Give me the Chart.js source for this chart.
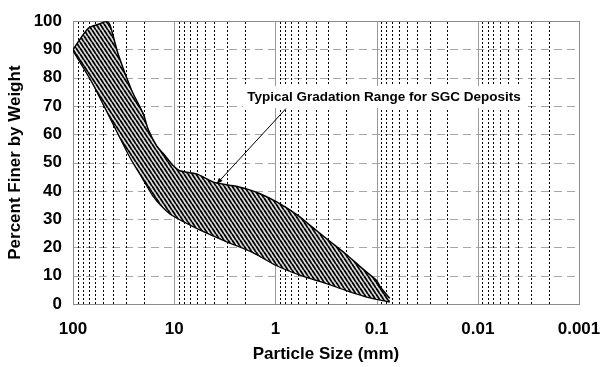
<!DOCTYPE html>
<html><head><meta charset="utf-8">
<script src="https://cdn.jsdelivr.net/npm/chart.js@4/dist/chart.umd.min.js"></script>
<style>html,body{margin:0;padding:0;background:#fff}#wrap{width:602px;height:367px}</style>
</head><body><div id="wrap"><canvas id="c" width="602" height="367"></canvas></div>
<script>
// ---- data ----
const xTickValues = [100, 10, 1, 0.1, 0.01, 0.001];
const xTickLabels = ['100', '10', '1', '0.1', '0.01', '0.001'];
const yTickValues = [0, 10, 20, 30, 40, 50, 60, 70, 80, 90, 100];
const yTickLabels = ['0', '10', '20', '30', '40', '50', '60', '70', '80', '90', '100'];

// upper (fine) bound of the gradation range: particle size (mm) -> percent finer
const upperX = [0.074, 0.092, 0.1, 0.137, 0.2, 0.29, 0.42, 0.61, 0.97, 1.42, 1.93, 2.6, 4.1, 6.0, 8.8, 10.2, 12.3, 14.9, 18, 20.3, 26.3, 35.7, 43, 46.4, 56, 70.6, 100];
const upperY = [2.0, 6.0, 8.3, 12.4, 17.6, 22.2, 26.8, 31.5, 36.1, 39.0, 40.7, 41.8, 43.1, 46.0, 47.1, 48.9, 52.4, 55.9, 61.6, 67.4, 75.5, 88.2, 98.6, 100, 98.9, 97.5, 90];
// lower (coarse) bound
const lowerX = [0.074, 0.116, 0.196, 0.323, 0.571, 0.987, 1.66, 3.01, 5.56, 10.28, 12.9, 16.1, 20.8, 26.3, 35.7, 48.3, 65.4, 100];
const lowerY = [0.9, 2.4, 4.9, 7.6, 10.4, 13.9, 18.4, 22.2, 26.4, 31.4, 34.4, 38.4, 45.1, 51.1, 60.4, 69.8, 79.0, 90];

const annotationText = 'Typical Gradation Range for SGC Deposits';
const labelAt = [0.0845, 73.2];
const arrowFrom = [0.786, 69.1];
const arrowTo = [3.8, 42.5];

// ---- rendering ----
const FONT = "'Liberation Sans', Arial, sans-serif";
const canvas = document.getElementById('c');
const ctx = canvas.getContext('2d');

function makeHatch() {
  const w = 4, h = 6;
  const c = document.createElement('canvas');
  c.width = w; c.height = h;
  const g = c.getContext('2d');
  g.fillStyle = '#dcdcdc'; g.fillRect(0, 0, w, h);
  g.strokeStyle = '#000000'; g.lineWidth = 1.8;
  for (const o of [-w, 0, w]) { g.beginPath(); g.moveTo(o, 0); g.lineTo(o + w, h); g.stroke(); }
  return ctx.createPattern(c, 'repeat');
}

const pts = (xs, ys) => xs.map((x, i) => ({ x: x, y: ys[i] }));

const gridPlugin = {
  id: 'gridPlugin',
  beforeDatasetsDraw(chart) {
    const { ctx, chartArea: a, scales: { x, y } } = chart;
    ctx.save();
    ctx.strokeStyle = '#a6a6a6'; ctx.lineWidth = 1; ctx.setLineDash([8, 5]);
    yTickValues.forEach(v => {
      if (v <= 0 || v >= 100) return;
      const py = Math.round(y.getPixelForValue(v)) + 0.5;
      ctx.beginPath(); ctx.moveTo(a.left, py); ctx.lineTo(a.right, py); ctx.stroke();
    });
    ctx.strokeStyle = '#000'; ctx.setLineDash([2, 2]);
    for (let k = -3; k <= 1; k++) {
      for (let m = 2; m <= 9; m++) {
        const v = m * Math.pow(10, k);
        const px = Math.round(x.getPixelForValue(v)) + 0.5;
        ctx.beginPath(); ctx.moveTo(px, a.bottom); ctx.lineTo(px, a.top); ctx.stroke();
      }
    }
    ctx.setLineDash([]); ctx.strokeStyle = '#9a9a9a';
    xTickValues.forEach(v => {
      const px = Math.round(x.getPixelForValue(v)) + 0.5;
      ctx.beginPath(); ctx.moveTo(px, a.bottom); ctx.lineTo(px, a.top); ctx.stroke();
    });
    ctx.strokeStyle = '#8c8c8c';
    ctx.strokeRect(Math.round(a.left) + 0.5, Math.round(a.top) + 0.5, Math.round(a.right - a.left), Math.round(a.bottom - a.top));
    ctx.restore();
  }
};

const annotationPlugin = {
  id: 'annotationPlugin',
  afterDatasetsDraw(chart) {
    const { ctx, scales: { x, y } } = chart;
    ctx.save();
    const x1 = x.getPixelForValue(arrowFrom[0]), y1 = y.getPixelForValue(arrowFrom[1]);
    const x2 = x.getPixelForValue(arrowTo[0]), y2 = y.getPixelForValue(arrowTo[1]);
    ctx.strokeStyle = '#000'; ctx.lineWidth = 1;
    ctx.beginPath(); ctx.moveTo(x1, y1); ctx.lineTo(x2, y2); ctx.stroke();
    const ang = Math.atan2(y2 - y1, x2 - x1);
    ctx.fillStyle = '#000';
    ctx.beginPath();
    ctx.moveTo(x2, y2);
    ctx.lineTo(x2 - 6 * Math.cos(ang) + 2.5 * Math.sin(ang), y2 - 6 * Math.sin(ang) - 2.5 * Math.cos(ang));
    ctx.lineTo(x2 - 6 * Math.cos(ang) - 2.5 * Math.sin(ang), y2 - 6 * Math.sin(ang) + 2.5 * Math.cos(ang));
    ctx.closePath(); ctx.fill();
    const tx = x.getPixelForValue(labelAt[0]), ty = y.getPixelForValue(labelAt[1]);
    ctx.font = 'bold 13.5px ' + FONT;
    const w = ctx.measureText(annotationText).width;
    ctx.fillStyle = '#fff';
    ctx.fillRect(tx - w / 2 - 4, ty - 11, w + 9, 22);
    ctx.fillStyle = '#000'; ctx.textAlign = 'center'; ctx.textBaseline = 'middle';
    ctx.fillText(annotationText, tx, ty);
    ctx.restore();
  }
};

const hatch = makeHatch();
const bold17 = { family: FONT, size: 17, weight: 'bold' };

new Chart(ctx, {
  type: 'line',
  data: {
    datasets: [
      { data: pts(upperX, upperY), borderColor: '#000', borderWidth: 1.5, pointRadius: 0, tension: 0.25, fill: '+1', backgroundColor: hatch },
      { data: pts(lowerX, lowerY), borderColor: '#000', borderWidth: 2.6, pointRadius: 0, tension: 0.25, fill: false }
    ]
  },
  options: {
    responsive: false, animation: false, devicePixelRatio: 1,
    layout: { padding: { left: 0, right: 23, top: 16, bottom: 0 } },
    plugins: { legend: { display: false }, tooltip: { enabled: false } },
    scales: {
      x: {
        type: 'logarithmic', reverse: true, min: 0.001, max: 100,
        afterBuildTicks: s => { s.ticks = xTickValues.map(v => ({ value: v })); },
        afterFit: s => { s.height = 63; s.paddingLeft = 0; s.paddingRight = 0; },
        ticks: {
          autoSkip: false, maxRotation: 0, padding: 15, color: '#000', font: bold17,
          callback: v => xTickLabels[xTickValues.findIndex(t => Math.abs(t - v) < t * 1e-6)]
        },
        grid: { display: false, drawTicks: false },
        border: { display: false },
        title: { display: true, text: 'Particle Size (mm)', color: '#000', font: bold17, padding: { top: 0, bottom: 2 } }
      },
      y: {
        min: 0, max: 100,
        afterBuildTicks: s => { s.ticks = yTickValues.map(v => ({ value: v })); },
        afterFit: s => { s.width = 73; },
        ticks: {
          padding: 11, color: '#000', font: bold17,
          callback: v => yTickLabels[yTickValues.indexOf(v)]
        },
        grid: { display: false, drawTicks: false },
        border: { display: false },
        title: { display: true, text: 'Percent Finer by Weight', color: '#000', font: bold17, padding: { top: 5, bottom: 0 } }
      }
    }
  },
  plugins: [gridPlugin, annotationPlugin]
});
</script></body></html>
